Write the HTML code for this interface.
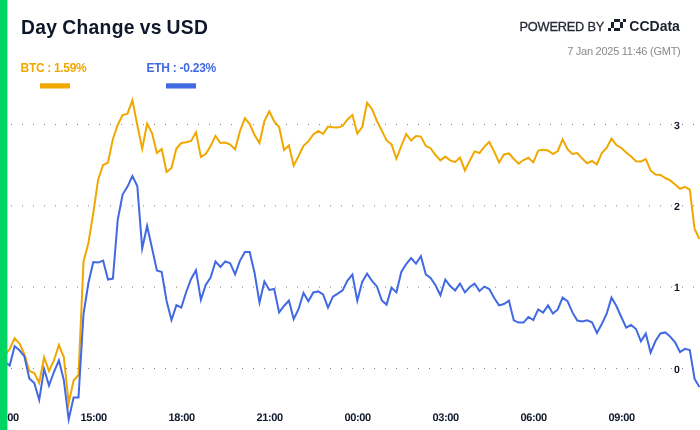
<!DOCTYPE html>
<html><head><meta charset="utf-8"><title>Day Change vs USD</title>
<style>
html,body{margin:0;padding:0;background:#fff;}
body{width:700px;height:430px;overflow:hidden;position:relative;font-family:"Liberation Sans","DejaVu Sans",sans-serif;}
.abs{position:absolute;white-space:nowrap;line-height:1;}
#title{left:21px;top:18px;font-size:19.3px;letter-spacing:0.35px;word-spacing:-1px;font-weight:700;color:#0F172A;}
#btc{left:20.6px;top:62px;font-size:12px;letter-spacing:-0.32px;font-weight:700;color:#F0A800;}
#eth{left:146.6px;top:62px;font-size:12px;letter-spacing:-0.28px;font-weight:700;color:#4169E1;}
#pow{left:519.5px;top:20.8px;font-size:12.8px;letter-spacing:-0.22px;-webkit-text-stroke:0.3px #262a35;color:#262a35;}
#cc{left:629.3px;top:18.6px;font-size:14px;font-weight:700;color:#1b2030;}
#ts{right:19.5px;top:45.9px;font-size:11px;letter-spacing:-0.26px;color:#8a8a8a;}
svg{position:absolute;left:0;top:0;}
svg text{font-family:"Liberation Sans","DejaVu Sans",sans-serif;font-weight:700;font-size:11px;fill:#0F172A;letter-spacing:-0.4px;text-rendering:geometricPrecision;}
</style></head><body>
<svg width="700" height="430" viewBox="0 0 700 430">
<g stroke="#858585" stroke-width="1" stroke-dasharray="1 10" fill="none">
<line x1="0" y1="124.5" x2="700" y2="124.5"/>
<line x1="0" y1="205.83" x2="700" y2="205.83"/>
<line x1="0" y1="287.17" x2="700" y2="287.17"/>
<line x1="0" y1="368.5" x2="700" y2="368.5"/>
</g>
<g text-anchor="middle">
<text x="5.6" y="420.7">12:00</text>
<text x="93.6" y="420.7">15:00</text>
<text x="181.6" y="420.7">18:00</text>
<text x="269.6" y="420.7">21:00</text>
<text x="357.6" y="420.7">00:00</text>
<text x="445.6" y="420.7">03:00</text>
<text x="533.6" y="420.7">06:00</text>
<text x="621.6" y="420.7">09:00</text>
</g>
<g text-anchor="middle">
<text x="676.7" y="128.7" style="font-size:10.5px">3</text>
<text x="676.7" y="210.0" style="font-size:10.5px">2</text>
<text x="676.7" y="291.4" style="font-size:10.5px">1</text>
<text x="676.7" y="372.7" style="font-size:10.5px">0</text>
</g>
<polyline fill="none" stroke="#F0A800" stroke-width="2" stroke-linejoin="miter" stroke-miterlimit="10" points="4.7,355.6 9.7,349.0 14.6,338.3 19.5,343.5 24.4,354.0 29.3,371.0 34.3,373.0 39.2,382.8 44.1,357.3 49.0,371.0 53.9,360.5 58.9,345.0 63.8,357.0 68.7,403.0 73.6,380.5 78.5,375.0 83.5,261.6 88.4,243.0 93.3,213.0 98.2,179.4 103.1,165.0 108.0,162.6 112.9,139.0 117.7,125.0 122.6,115.0 127.5,113.6 132.4,100.2 137.3,125.0 142.2,148.8 147.1,123.7 152.0,133.0 156.9,153.0 161.7,149.0 166.6,172.0 171.5,168.0 176.4,148.6 181.3,143.0 186.2,142.2 191.1,141.0 196.0,132.3 200.9,157.0 205.7,154.0 210.6,146.0 215.5,135.9 220.4,143.0 225.3,142.6 230.2,144.6 235.1,149.4 240.0,131.0 244.9,118.2 249.7,124.0 254.6,135.0 259.5,143.0 264.4,121.0 269.3,111.3 274.2,121.4 279.1,127.0 284.0,150.0 288.9,145.4 293.7,165.6 298.6,156.0 303.5,145.8 308.4,141.4 313.3,134.4 318.2,131.0 323.1,134.0 328.0,126.6 332.9,127.2 337.8,127.6 342.6,126.0 347.5,119.4 352.4,115.0 357.3,133.6 362.2,127.0 367.1,102.8 372.0,109.0 376.9,121.0 381.8,130.6 386.6,140.4 391.5,144.4 396.4,158.6 401.3,146.0 406.2,134.0 411.1,140.6 416.0,136.0 420.9,136.6 425.8,146.0 430.6,148.2 435.5,155.0 440.4,160.4 445.3,156.6 450.2,160.4 455.1,162.2 460.0,157.6 464.9,170.4 469.8,160.6 474.6,151.4 479.5,153.0 484.4,146.6 489.3,142.0 494.2,151.6 499.1,162.4 504.0,154.4 508.9,153.4 513.8,159.0 518.6,163.6 523.5,160.0 528.4,157.8 533.3,162.4 538.2,150.6 543.1,149.8 548.0,150.4 552.9,154.0 557.8,151.0 562.6,139.4 567.5,149.2 572.4,154.0 577.3,153.0 582.2,158.6 587.1,163.2 592.0,161.0 596.9,164.4 601.8,153.0 606.6,148.0 611.5,138.6 616.4,145.0 621.3,148.0 626.2,152.6 631.1,156.6 636.0,161.2 640.9,161.4 645.8,159.0 650.6,170.4 655.5,174.6 660.4,175.0 665.3,178.0 670.2,180.4 675.1,184.6 680.0,188.8 684.9,186.8 689.8,189.6 694.6,229.0 699.5,239.0"/>
<polyline fill="none" stroke="#4169E1" stroke-width="2" stroke-linejoin="miter" stroke-miterlimit="10" points="4.7,361.7 9.7,365.5 14.6,346.3 19.5,350.3 24.4,356.5 29.3,378.4 34.3,383.0 39.2,400.0 44.1,369.0 49.0,385.5 53.9,372.0 58.9,360.3 63.8,380.0 68.7,419.5 73.6,397.6 78.5,397.6 83.5,314.0 88.4,283.0 93.3,262.0 98.2,262.6 103.1,260.6 108.0,279.6 112.9,278.6 117.7,220.0 122.6,194.6 127.5,186.6 132.4,176.0 137.3,186.0 142.2,248.5 147.1,226.0 152.0,248.0 156.9,270.5 161.7,272.0 166.6,301.0 171.5,320.0 176.4,305.2 181.3,307.5 186.2,292.0 191.1,279.0 196.0,270.3 200.9,299.8 205.7,285.0 210.6,277.6 215.5,261.5 220.4,267.0 225.3,261.4 230.2,263.2 235.1,274.4 240.0,260.6 244.9,252.1 249.7,252.1 254.6,273.0 259.5,302.6 264.4,281.5 269.3,290.0 274.2,289.0 279.1,312.4 284.0,306.0 288.9,300.5 293.7,319.1 298.6,309.0 303.5,292.9 308.4,301.3 313.3,292.4 318.2,291.4 323.1,294.4 328.0,307.6 332.9,296.6 337.8,293.6 342.6,290.4 347.5,280.6 352.4,274.5 357.3,300.6 362.2,282.0 367.1,273.6 372.0,281.0 376.9,286.4 381.8,300.4 386.6,304.6 391.5,287.6 396.4,292.4 401.3,272.0 406.2,264.0 411.1,258.0 416.0,263.6 420.9,256.2 425.8,274.4 430.6,278.0 435.5,285.3 440.4,295.3 445.3,279.6 450.2,286.0 455.1,290.4 460.0,283.6 464.9,292.4 469.8,287.0 474.6,283.6 479.5,291.0 484.4,286.6 489.3,289.0 494.2,298.0 499.1,305.4 504.0,304.0 508.9,300.6 513.8,320.4 518.6,322.6 523.5,322.6 528.4,317.0 533.3,320.0 538.2,309.4 543.1,312.6 548.0,305.4 552.9,313.4 557.8,309.4 562.6,297.6 567.5,301.2 572.4,312.4 577.3,320.6 582.2,321.4 587.1,320.2 592.0,322.2 596.9,333.0 601.8,324.0 606.6,314.0 611.5,297.6 616.4,306.0 621.3,317.0 626.2,327.6 631.1,325.0 636.0,329.0 640.9,341.4 645.8,333.6 650.6,352.6 655.5,341.0 660.4,333.4 665.3,332.4 670.2,336.6 675.1,342.4 680.0,352.0 684.9,348.8 689.8,350.0 694.6,379.0 699.5,387.0"/>
<rect x="40" y="83.3" width="30" height="5.2" fill="#F0A800"/>
<rect x="166" y="83.3" width="30" height="5.2" fill="#4169E1"/>
<g fill="#1b2030">
<rect x="614" y="19" width="6" height="3"/><rect x="623" y="19" width="3" height="3"/>
<rect x="611" y="22" width="3" height="6"/><rect x="620" y="22" width="3" height="6"/>
<rect x="608" y="28" width="3" height="3"/><rect x="614" y="28" width="6" height="3"/>
</g>
<rect x="0" y="0" width="7.45" height="430" fill="#00D463"/>
</svg>
<div class="abs" id="title">Day Change vs USD</div>
<div class="abs" id="btc">BTC : 1.59%</div>
<div class="abs" id="eth">ETH : -0.23%</div>
<div class="abs" id="pow">POWERED BY</div>
<div class="abs" id="cc">CCData</div>
<div class="abs" id="ts">7 Jan 2025 11:46 (GMT)</div>
</body></html>
